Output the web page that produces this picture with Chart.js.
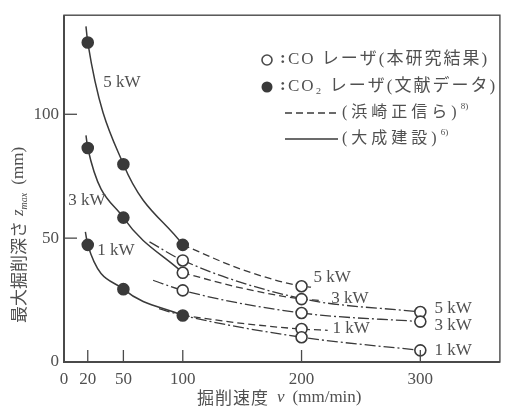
<!DOCTYPE html>
<html>
<head>
<meta charset="utf-8">
<script src="https://cdn.jsdelivr.net/npm/chart.js@4/dist/chart.umd.min.js"></script>
<style>
  html, body { margin: 0; padding: 0; background: #fff; }
  #wrap { width: 507px; height: 409px; }
</style>
</head>
<body>
<div id="wrap"><canvas id="depthChart" width="507" height="409"></canvas></div>
<script>
// 軸目盛
const speedTicks = [0, 20, 50, 100, 200, 300];
const depthTicks = [0, 50, 100];

// CO2 レーザ(文献データ) 黒丸
const co2Speed5kW = [20, 50, 100];
const co2Depth5kW = [129, 79.8, 47.3];
const co2Speed3kW = [20, 50];
const co2Depth3kW = [86.4, 58.3];
const co2Speed1kW = [20, 50, 100];
const co2Depth1kW = [47.3, 29.4, 18.8];

// CO レーザ(本研究結果) 白丸
const coSpeed = [100, 100, 100, 200, 200, 200, 200, 200, 300, 300, 300];
const coDepth = [41, 36, 28.9, 30.6, 25.4, 19.8, 13.3, 10, 20.2, 16.3, 4.7];

// 実線 (大成建設)
const taiseiSpeed5kW = [18.5, 20, 50, 100];
const taiseiDepth5kW = [135.5, 129, 79.8, 47.3];
const taiseiSpeed3kW = [18.5, 20, 50, 100];
const taiseiDepth3kW = [91.5, 86.4, 58.3, 36];
const taiseiSpeed1kW = [18, 20, 50, 100];
const taiseiDepth1kW = [52.5, 47.3, 29.4, 18.8];

// 破線 (浜崎正信ら)
const hamaSpeed5kW = [100, 150, 200, 208];
const hamaDepth5kW = [47.3, 37.3, 30.6, 30.2];
const hamaSpeed3kW = [100, 150, 200, 218];
const hamaDepth3kW = [36, 29.8, 25.4, 24.8];
const hamaSpeed1kW = [100, 150, 200, 222];
const hamaDepth1kW = [18.8, 15.6, 13.3, 12.8];

// 一点鎖線 (CO レーザ)
const coLineSpeed5kW = [72, 100, 200, 300];
const coLineDepth5kW = [48.5, 41, 25.6, 20.2];
const coLineSpeed3kW = [75, 100, 200, 300];
const coLineDepth3kW = [33, 28.9, 19.8, 16.3];
const coLineSpeed1kW = [80, 100, 200, 300];
const coLineDepth1kW = [21.5, 18.8, 10, 4.7];

// 出力ラベル
const powerLabels = ['5 kW', '3 kW', '1 kW', '5 kW', '3 kW', '1 kW', '5 kW', '3 kW', '1 kW'];
const powerLabelSpeed = [33, 3.5, 28, 210, 225, 226, 312, 312, 312];
const powerLabelDepth = [113, 65.2, 45, 34, 25.7, 13.4, 21.7, 14.6, 4.7];

const ink = '#3a3a3a';
const textInk = '#505050';
const serif = "'Liberation Serif', 'DejaVu Serif', serif";
const cjk = "'Noto Sans CJK JP', sans-serif";

function pts(xs, ys) {
    return xs.map((x, i) => ({ x: x, y: ys[i] }));
}

function curve(xs, ys, dash) {
    return {
        data: pts(xs, ys),
        showLine: true,
        borderColor: ink,
        borderWidth: dash.length ? 1.3 : 1.5,
        borderDash: dash,
        pointRadius: 0,
        cubicInterpolationMode: 'monotone'
    };
}

function markers(xs, ys, filled) {
    return {
        data: pts(xs, ys),
        showLine: false,
        pointStyle: 'circle',
        pointRadius: 5.5,
        pointBorderWidth: 1.6,
        pointBorderColor: ink,
        pointBackgroundColor: filled ? ink : '#fff'
    };
}

const dashed = [7, 4];
const dashDot = [11, 3, 2, 3];

// 目盛線、枠、ラベル、凡例、軸タイトルを描く
const decorPlugin = {
    id: 'decor',
    afterDraw(chart) {
        const ctx = chart.ctx;
        const a = chart.chartArea;
        const xs = chart.scales.x;
        const ys = chart.scales.y;
        ctx.save();

        // 枠
        ctx.strokeStyle = '#4a4a4a';
        ctx.lineWidth = 1.4;
        ctx.strokeRect(a.left, a.top, a.right - a.left, a.bottom - a.top);
        ctx.lineWidth = 2;
        ctx.beginPath();
        ctx.moveTo(a.left, a.top);
        ctx.lineTo(a.left, a.bottom);
        ctx.lineTo(a.right, a.bottom);
        ctx.stroke();

        // 内向きの目盛
        ctx.lineWidth = 1.3;
        speedTicks.filter(v => v > 0).forEach(v => {
            const px = xs.getPixelForValue(v);
            ctx.beginPath();
            ctx.moveTo(px, a.bottom);
            ctx.lineTo(px, a.bottom - 12);
            ctx.stroke();
        });
        depthTicks.filter(v => v > 0).forEach(v => {
            const py = ys.getPixelForValue(v);
            ctx.beginPath();
            ctx.moveTo(a.left, py);
            ctx.lineTo(a.left + 13, py);
            ctx.stroke();
        });

        // 出力ラベル
        ctx.fillStyle = textInk;
        ctx.font = '17px ' + serif;
        ctx.textBaseline = 'middle';
        ctx.textAlign = 'left';
        powerLabels.forEach((t, i) => {
            ctx.fillText(t, xs.getPixelForValue(powerLabelSpeed[i]), ys.getPixelForValue(powerLabelDepth[i]));
        });

        // 凡例
        const lx = 267;
        ctx.lineWidth = 1.6;
        ctx.beginPath();
        ctx.arc(lx, 60, 5, 0, Math.PI * 2);
        ctx.fillStyle = '#fff';
        ctx.fill();
        ctx.stroke();
        ctx.beginPath();
        ctx.arc(lx, 87, 5.5, 0, Math.PI * 2);
        ctx.fillStyle = ink;
        ctx.fill();

        ctx.fillStyle = textInk;
        ctx.font = 'bold 17px ' + serif;
        ctx.fillText(':', 280, 59);
        ctx.fillText(':', 280, 86);
        ctx.font = '17px ' + serif + ', ' + cjk;
        ctx.letterSpacing = '2px';
        ctx.fillText('CO レーザ(本研究結果)', 288, 60);
        ctx.fillText('CO₂ レーザ(文献データ)', 288, 87);

        ctx.strokeStyle = ink;
        ctx.lineWidth = 1.3;
        ctx.setLineDash(dashed);
        ctx.beginPath();
        ctx.moveTo(285, 113);
        ctx.lineTo(338, 113);
        ctx.stroke();
        ctx.setLineDash([]);
        ctx.beginPath();
        ctx.moveTo(285, 139);
        ctx.lineTo(338, 139);
        ctx.stroke();

        ctx.font = '16px ' + serif + ', ' + cjk;
        ctx.letterSpacing = '4px';
        ctx.fillText('(浜崎正信ら)', 342, 113);
        let w = ctx.measureText('(浜崎正信ら)').width;
        ctx.letterSpacing = '0px';
        ctx.font = '9px ' + serif;
        ctx.fillText('8)', 342 + w, 107);
        ctx.font = '16px ' + serif + ', ' + cjk;
        ctx.letterSpacing = '4px';
        ctx.fillText('(大成建設)', 342, 139);
        w = ctx.measureText('(大成建設)').width;
        ctx.letterSpacing = '0px';
        ctx.font = '9px ' + serif;
        ctx.fillText('6)', 342 + w, 133);

        // x 軸タイトル
        let x = 197;
        const ty = 398;
        ctx.font = '17px ' + cjk;
        ctx.letterSpacing = '1px';
        ctx.fillText('掘削速度', x, ty);
        x += ctx.measureText('掘削速度').width + 8;
        ctx.letterSpacing = '0px';
        ctx.font = 'italic 17px ' + serif;
        ctx.fillText('v', x, ty);
        x += ctx.measureText('v').width + 8;
        ctx.font = '17px ' + serif;
        ctx.fillText('(mm/min)', x, ty);

        // y 軸タイトル
        ctx.translate(19, 323);
        ctx.rotate(-Math.PI / 2);
        x = 0;
        ctx.font = '17px ' + cjk;
        ctx.fillText('最大掘削深さ', x, 0);
        x += ctx.measureText('最大掘削深さ').width + 5;
        ctx.font = 'italic 17px ' + serif;
        ctx.fillText('z', x, 0);
        x += ctx.measureText('z').width;
        ctx.font = 'italic 10px ' + serif;
        ctx.fillText('max', x, 5);
        x += ctx.measureText('max').width + 8;
        ctx.font = '17px ' + serif;
        ctx.fillText('(mm)', x, 0);

        ctx.restore();
    }
};

const depthCtx = document.getElementById('depthChart').getContext('2d');
const depthChart = new Chart(depthCtx, {
    type: 'scatter',
    data: {
        datasets: [
            markers(coSpeed, coDepth, false),
            markers(co2Speed5kW, co2Depth5kW, true),
            markers(co2Speed3kW, co2Depth3kW, true),
            markers(co2Speed1kW, co2Depth1kW, true),
            curve(taiseiSpeed5kW, taiseiDepth5kW, []),
            curve(taiseiSpeed3kW, taiseiDepth3kW, []),
            curve(taiseiSpeed1kW, taiseiDepth1kW, []),
            curve(hamaSpeed5kW, hamaDepth5kW, dashed),
            curve(hamaSpeed3kW, hamaDepth3kW, dashed),
            curve(hamaSpeed1kW, hamaDepth1kW, dashed),
            curve(coLineSpeed5kW, coLineDepth5kW, dashDot),
            curve(coLineSpeed3kW, coLineDepth3kW, dashDot),
            curve(coLineSpeed1kW, coLineDepth1kW, dashDot)
        ]
    },
    options: {
        responsive: false,
        animation: false,
        events: [],
        layout: { padding: { top: 7, right: 6, left: 0, bottom: 0 } },
        plugins: {
            legend: { display: false },
            tooltip: { enabled: false }
        },
        scales: {
            x: {
                type: 'linear',
                min: 0,
                max: 367,
                afterBuildTicks: s => { s.ticks = speedTicks.map(v => ({ value: v })); },
                afterFit: s => { s.height = 47; },
                grid: { display: false, drawTicks: false },
                border: { display: false },
                ticks: {
                    padding: 7,
                    color: textInk,
                    font: { family: serif, size: 17 },
                    maxRotation: 0,
                    autoSkip: false
                }
            },
            y: {
                type: 'linear',
                min: 0,
                max: 140,
                afterBuildTicks: s => { s.ticks = depthTicks.map(v => ({ value: v })); },
                afterFit: s => { s.width = 64; },
                grid: { display: false, drawTicks: false },
                border: { display: false },
                ticks: {
                    padding: 5,
                    color: textInk,
                    font: { family: serif, size: 17 }
                }
            }
        }
    },
    plugins: [decorPlugin]
});
</script>
</body>
</html>
